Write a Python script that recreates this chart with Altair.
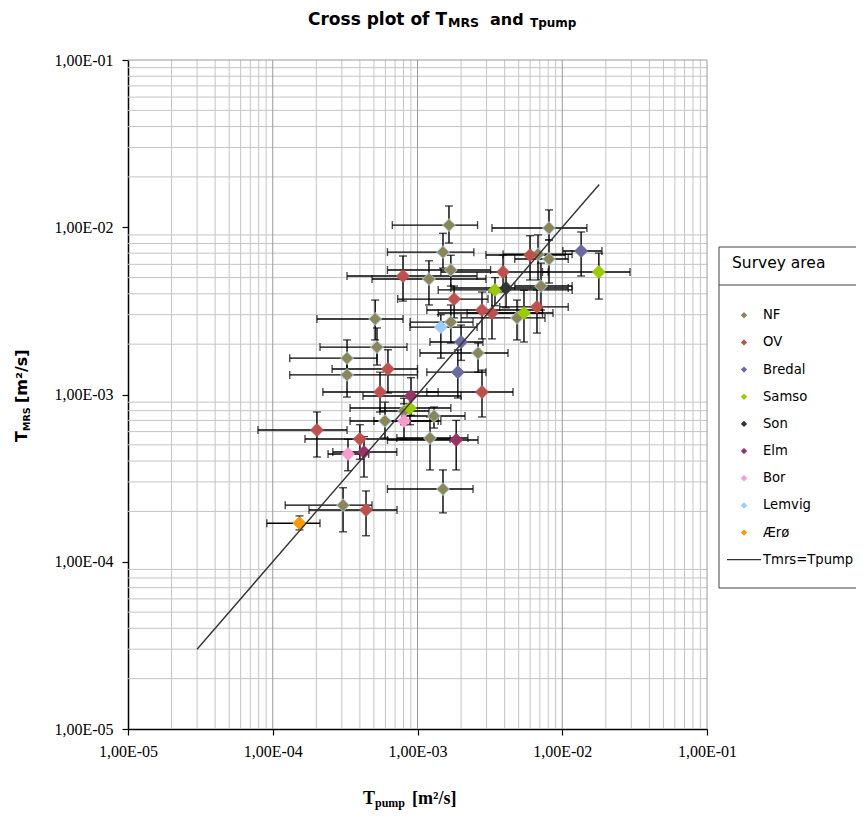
import altair as alt
import pandas as pd

W, H = 579, 669

# ---------------- data ----------------
categories = ["NF", "OV", "Bredal", "Samso", "Son", "Elm", "Bor", "Lemvig", "Ærø"]
fill_colors = ["#8C8557", "#C0504D", "#6B6BA3", "#9ACD00", "#333333", "#993366", "#FF99CC", "#99CCFF", "#FF9900"]
edge_colors = ["#A9D1DA", "#C0504D", "#6B6BA3", "#9ACD00", "#333333", "#993366", "#FF99CC", "#99CCFF", "#FF9900"]

point_area = (["NF"] * 21 + ["OV"] * 13 + ["Bredal"] * 3 + ["Samso"] * 4 + ["Son"]
              + ["Elm"] * 3 + ["Bor"] * 2 + ["Lemvig"] + ["Ærø"])

t_pump = [1.65e-3, 1.50e-3, 1.70e-3, 1.20e-3, 8.1e-3, 6.8e-3, 8.1e-3, 7.13e-3, 5.1e-4, 1.70e-3,
          4.87e-3, 5.25e-4, 3.26e-4, 3.26e-4, 2.62e-3, 8.07e-4, 1.30e-3, 5.96e-4, 1.22e-3, 1.50e-3, 3.06e-4,
          7.94e-4, 1.79e-3, 5.99e-3, 3.9e-3, 2.79e-3, 3.27e-3, 6.69e-3, 6.25e-4, 5.51e-4, 2.79e-3,
          2.02e-4, 4.0e-4, 4.41e-4,
          1.35e-2, 2.0e-3, 1.90e-3,
          1.79e-2, 3.43e-3, 5.44e-3, 8.87e-4,
          4.09e-3,
          9.02e-4, 1.85e-3, 4.27e-4,
          8.07e-4, 3.31e-4,
          1.45e-3,
          1.53e-4]
t_mrs = [1.03e-2, 7.1e-3, 5.55e-3, 4.9e-3, 9.9e-3, 6.9e-3, 6.46e-3, 4.45e-3, 2.83e-3, 2.71e-3,
         2.87e-3, 1.92e-3, 1.65e-3, 1.31e-3, 1.77e-3, 7.96e-4, 7.44e-4, 6.94e-4, 5.49e-4, 2.72e-4, 2.18e-4,
         5.11e-3, 3.72e-3, 6.82e-3, 5.4e-3, 3.2e-3, 3.07e-3, 3.34e-3, 1.42e-3, 1.035e-3, 1.035e-3,
         6.13e-4, 5.42e-4, 2.04e-4,
         7.21e-3, 2.06e-3, 1.36e-3,
         5.4e-3, 4.22e-3, 3.07e-3, 8.3e-4,
         4.33e-3,
         9.8e-4, 5.35e-4, 4.53e-4,
         6.94e-4, 4.41e-4,
         2.53e-3,
         1.70e-4]
t_pump_lo = [6.7e-4, 6.2e-4, 6.2e-4, 4.85e-4, 3.27e-3, 3.9e-3, 4.7e-3, 4.7e-3, 2.02e-4, 8.9e-4,
             2.0e-3, 2.12e-4, 1.31e-4, 1.31e-4, 1.04e-3, 5.5e-4, 7.8e-4, 3.42e-4, 7.2e-4, 6.2e-4, 1.22e-4,
             3.26e-4, 7.3e-4, 2.97e-3, 1.45e-3, 1.16e-3, 1.39e-3, 3.7e-3, 2.57e-4, 2.22e-4, 1.16e-3,
             7.9e-5, 1.67e-4, 1.78e-4,
             1.01e-2, 1.22e-3, 1.16e-3,
             7.3e-3, 1.39e-3, 2.2e-3, 3.42e-4,
             1.7e-3,
             4.2e-4, 6.2e-4, 2.6e-4,
             5.0e-4, 2.41e-4,
             8.87e-4,
             9.1e-5]
t_pump_hi = [2.6e-3, 2.45e-3, 3.2e-3, 2.97e-3, 1.48e-2, 1.17e-2, 1.10e-2, 1.17e-2, 7.94e-4, 2.42e-3,
             7.6e-3, 8.46e-4, 5.25e-4, 1.0e-3, 4.22e-3, 1.2e-3, 2.13e-3, 1.39e-3, 2.23e-3, 2.42e-3, 4.85e-4,
             2.58e-3, 3.07e-3, 1.05e-2, 8.0e-3, 7.3e-3, 7.3e-3, 1.10e-2, 1.0e-3, 1.39e-3, 4.57e-3,
             3.26e-4, 1.68e-3, 7.22e-4,
             1.88e-2, 2.83e-3, 2.97e-3,
             2.94e-2, 1.17e-2, 8.63e-3, 1.7e-3,
             1.1e-2,
             2.0e-3, 2.62e-3, 7.2e-4,
             1.45e-3, 4.6e-4,
             2.58e-3,
             2.12e-4]
t_mrs_lo = [8.05e-3, 5.7e-3, 4.45e-3, 3.43e-3, 8.4e-3, 4.84e-3, 4.64e-3, 3.2e-3, 2.12e-3, 2.03e-3,
            2.12e-3, 1.50e-3, 1.26e-3, 9.66e-4, 1.36e-3, 6.6e-4, 6.3e-4, 5.49e-4, 3.54e-4, 1.96e-4, 1.51e-4,
            3.62e-3, 2.87e-3, 4.84e-3, 4.1e-3, 2.15e-3, 2.15e-3, 2.33e-3, 1.02e-3, 7.86e-4, 7.34e-4,
            4.23e-4, 4.1e-4, 1.43e-4,
            5.11e-3, 1.6e-3, 9.53e-4,
            3.72e-3, 3.4e-3, 2.06e-3, 6.6e-4,
            3.3e-3,
            7.5e-4, 3.54e-4, 3.21e-4,
            5.4e-4, 3.5e-4,
            1.65e-3,
            1.55e-4]
t_mrs_hi = [1.34e-2, 9.2e-3, 6.8e-3, 6.3e-3, 1.27e-2, 9.0e-3, 8.4e-3, 6.1e-3, 3.67e-3, 3.43e-3,
            3.67e-3, 2.5e-3, 2.12e-3, 1.65e-3, 2.03e-3, 9.5e-4, 8.42e-4, 9.0e-4, 7.34e-4, 3.54e-4, 2.77e-4,
            6.73e-3, 4.45e-3, 8.9e-3, 6.82e-3, 4.1e-3, 4.1e-3, 4.22e-3, 1.85e-3, 1.36e-3, 1.40e-3,
            7.86e-4, 6.6e-4, 2.65e-4,
            9.37e-3, 2.6e-3, 1.85e-3,
            7.0e-3, 5.0e-3, 4.2e-3, 1.0e-3,
            5.4e-3,
            1.26e-3, 7.0e-4, 5.6e-4,
            8.8e-4, 5.4e-4,
            3.0e-3,
            1.88e-4]

line_t = [3e-5, 1.8e-2]          # Tmrs = Tpump reference line
decades = [1e-5, 1e-4, 1e-3, 1e-2, 1e-1]
minor_mult = [2, 3, 4, 5, 6, 7, 8, 9]
legend_labels = categories + ["Tmrs=Tpump"]

# ---------------- tables ----------------
pts = pd.DataFrame({"area": point_area, "x": t_pump, "y": t_mrs,
                    "xlo": t_pump_lo, "xhi": t_pump_hi, "ylo": t_mrs_lo, "yhi": t_mrs_hi})
line_df = pd.DataFrame({"x": line_t, "y": line_t})
minor_df = pd.DataFrame({"g": [m * d for d in decades[:-1] for m in minor_mult]})
major_v_df = pd.DataFrame({"g": decades[1:]})
top_df = pd.DataFrame({"g": decades[-1:]})
legend_df = pd.DataFrame({"label": legend_labels})
one = pd.DataFrame({"k": [0]})

xs = alt.Scale(type="log", domain=[1e-5, 1e-1], nice=False)
ys = alt.Scale(type="log", domain=[1e-5, 1e-1], nice=False)
lab = "'1,00E-0' + round(-log(datum.value)/LN10)"
ax_x = alt.Axis(values=decades, labelExpr=lab, title=None, grid=False, tickSize=6, tickColor="black",
                tickWidth=1.2, domainColor="black", domainWidth=1.5, labelFont="Liberation Serif",
                labelFontSize=16, labelColor="black", labelPadding=8, labelFlush=False)
ax_y = alt.Axis(values=decades, labelExpr=lab, title=None, grid=False, tickSize=6, tickColor="black",
                tickWidth=1.2, domainColor="black", domainWidth=1.5, labelFont="Liberation Serif",
                labelFontSize=16, labelColor="black", labelPadding=9, labelFlush=False)

def X(f):
    return alt.X(f, type="quantitative", scale=xs, axis=ax_x)

def Y(f):
    return alt.Y(f, type="quantitative", scale=ys, axis=ax_y)

grid_v = alt.Chart(minor_df).mark_rule(color="#C4C4C4", strokeWidth=1).encode(
    x=X("g"), y=alt.value(0), y2=alt.value(H))
grid_h = alt.Chart(minor_df).mark_rule(color="#C4C4C4", strokeWidth=1).encode(
    y=Y("g"), x=alt.value(0), x2=alt.value(W))
grid_vm = alt.Chart(major_v_df).mark_rule(color="#9A9A9A", strokeWidth=1).encode(
    x=X("g"), y=alt.value(0), y2=alt.value(H))
grid_top = alt.Chart(top_df).mark_rule(color="#9A9A9A", strokeWidth=1).encode(
    y=Y("g"), x=alt.value(0), x2=alt.value(W))

base = alt.Chart(pts)
ebx = base.mark_rule(color="black", strokeWidth=1.4).encode(x=X("xlo"), x2="xhi", y=Y("y"))
eby = base.mark_rule(color="black", strokeWidth=1.4).encode(x=X("x"), y=Y("ylo"), y2="yhi")
cap_xl = base.mark_tick(orient="vertical", color="black", size=8, thickness=1.4).encode(x=X("xlo"), y=Y("y"))
cap_xh = base.mark_tick(orient="vertical", color="black", size=8, thickness=1.4).encode(x=X("xhi"), y=Y("y"))
cap_yl = base.mark_tick(orient="horizontal", color="black", size=8, thickness=1.4).encode(x=X("x"), y=Y("ylo"))
cap_yh = base.mark_tick(orient="horizontal", color="black", size=8, thickness=1.4).encode(x=X("x"), y=Y("yhi"))

color_scale = alt.Scale(domain=categories, range=fill_colors)
points = base.mark_point(shape="diamond", filled=True, size=165, strokeWidth=1, opacity=1).encode(
    x=X("x"), y=Y("y"),
    color=alt.Color("area:N", scale=color_scale, legend=None),
    stroke=alt.Stroke("area:N", scale=alt.Scale(domain=categories, range=edge_colors), legend=None))

one_line = alt.Chart(line_df).mark_line(color="#333333", strokeWidth=1.4).encode(x=X("x"), y=Y("y"))


def txt(text, x, y, size, font="DejaVu Sans", angle=0, weight="bold"):
    return alt.Chart(one).mark_text(text=text, align="left", baseline="alphabetic", font=font,
                                    fontSize=size, fontWeight=weight, angle=angle, color="black").encode(
        x=alt.value(x), y=alt.value(y))

titles = [
    txt("Cross plot of T", 180, -35, 17),
    txt("MRS", 320, -33, 12.5),
    txt("and", 362, -35, 16),
    txt("Tpump", 402, -33, 12),
    # y axis title (rotated)
    txt("T", -101, 382, 16, angle=270),
    txt("MRS", -98, 371, 9.5, angle=270),
    txt("[m²/s]", -101, 343, 16, angle=270),
    # x axis title
    txt("T", 235, 744, 18, font="Liberation Serif"),
    txt("pump", 247, 747, 12, font="Liberation Serif"),
    txt("[m²/s]", 284, 744, 18, font="Liberation Serif"),
]

main = alt.layer(grid_v, grid_h, grid_vm, grid_top, ebx, eby, cap_xl, cap_xh, cap_yl, cap_yh,
                 points, one_line, *titles)

# ---------------- legend ----------------
ly = alt.Y("label:N", scale=alt.Scale(domain=legend_labels, range=[241.7, 513.3], padding=0), axis=None)
box = alt.Chart(one).mark_rect(fill="white", stroke="#404040", strokeWidth=1).encode(
    x=alt.value(591), x2=alt.value(760), y=alt.value(187), y2=alt.value(528))
sep = alt.Chart(one).mark_rule(color="#404040", strokeWidth=1).encode(
    x=alt.value(591), x2=alt.value(760), y=alt.value(225))
ltitle = txt("Survey area", 604, 208, 15.5, weight="normal")
lsym = alt.Chart(legend_df).transform_filter(
    alt.FieldOneOfPredicate(field="label", oneOf=categories)).mark_point(
    shape="diamond", filled=True, size=40, opacity=1).encode(
    x=alt.value(616), y=ly, color=alt.Color("label:N", scale=color_scale, legend=None))
lline = alt.Chart(legend_df).transform_filter(alt.datum.label == "Tmrs=Tpump").mark_rule(
    color="#333333", strokeWidth=1.2).encode(x=alt.value(599), x2=alt.value(633), y=ly)
ltext = alt.Chart(legend_df).mark_text(align="left", baseline="middle", font="DejaVu Sans",
                                       fontSize=13.2, color="black").encode(
    x=alt.value(635), y=ly, text="label:N")

legend = alt.layer(box, sep, ltitle, lsym, lline, ltext)

chart = alt.layer(main, legend).resolve_scale(y="independent").properties(
    width=W, height=H,
    padding={"left": 120, "top": 52, "right": 149, "bottom": 81},
    autosize=alt.AutoSizeParams(type="none"),
).configure_view(stroke=None)

chart.save("out.html", embed_options={"renderer": "svg", "actions": False})
